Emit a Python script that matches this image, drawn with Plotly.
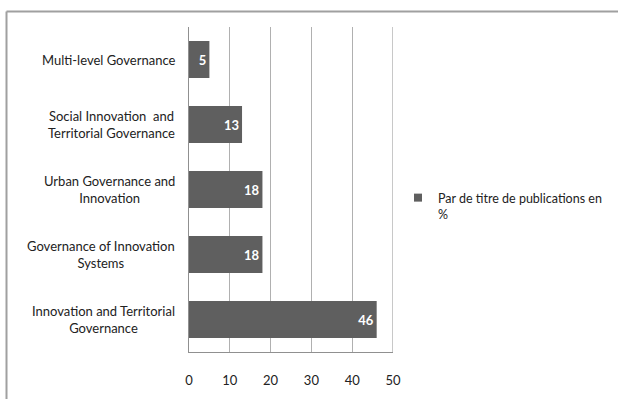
import plotly.graph_objects as go

categories = [
    "Innovation and Territorial<br>Governance",
    "Governance of Innovation<br>Systems",
    "Urban Governance and<br>Innovation",
    "Social Innovation  and<br>Territorial Governance",
    "Multi-level Governance",
]
values = [46, 18, 18, 13, 5]
series_name = "Par de titre de publications en<br>%"
x_ticks = [0, 10, 20, 30, 40, 50]

W, H = 618, 399
L, R, T, B = 189, 225, 27, 47
pw, ph = W - L - R, H - T - B

def px_x(p):
    return (p - L) / pw

def px_y(p):
    return (H - B - p) / ph

FONT = "Lato, 'Open Sans', sans-serif"
BAR_COLOR = "#5f5f5f"

fig = go.Figure()
fig.add_trace(go.Bar(
    y=categories, x=values, orientation="h",
    name=series_name,
    marker=dict(color=BAR_COLOR, line=dict(width=0)),
    text=[str(v) for v in values],
    textposition="inside", insidetextanchor="end",
    textfont=dict(color="white", size=13, family=FONT, weight="bold"),
    showlegend=False,
))
# legend-only entry with a small square symbol
fig.add_trace(go.Scatter(
    x=[None], y=[None], mode="markers", name=series_name,
    marker=dict(symbol="square", size=8, color=BAR_COLOR),
    showlegend=True,
))

for c in categories:
    fig.add_annotation(
        x=px_x(177), xref="paper", y=c, yref="y",
        text=c, showarrow=False, xanchor="right", align="center",
        font=dict(size=13, color="#222", family=FONT),
    )

fig.update_layout(
    width=W, height=H,
    margin=dict(l=L, r=R, t=T, b=B, pad=0, autoexpand=False),
    paper_bgcolor="white", plot_bgcolor="white",
    bargap=0.43,
    font=dict(family=FONT, size=13, color="#222"),
    xaxis=dict(
        range=[0, 50], tickvals=x_ticks, showgrid=True, gridcolor="#b0b0b0",
        gridwidth=1, showline=True, linecolor="#909090", linewidth=1,
        zeroline=False, ticks="", ticklabelstandoff=16,
        tickfont=dict(size=13, color="#222", family=FONT), mirror=False,
    ),
    yaxis=dict(
        showticklabels=False, showline=True, linecolor="#909090", linewidth=1,
        showgrid=False, ticks="", range=[-0.5, 4.5],
    ),
    legend=dict(
        x=px_x(398), y=px_y(183), xanchor="left", yanchor="top",
        font=dict(size=12.5, color="#222", family=FONT),
        bgcolor="rgba(0,0,0,0)", itemwidth=30, valign="top",
    ),
    shapes=[
        dict(type="line", xref="paper", yref="paper",
             x0=px_x(6.5), x1=px_x(640), y0=px_y(11.5), y1=px_y(11.5),
             line=dict(color="#a0a0a0", width=2)),
        dict(type="line", xref="paper", yref="paper",
             x0=px_x(6.5), x1=px_x(6.5), y0=px_y(11.5), y1=px_y(420),
             line=dict(color="#a0a0a0", width=2)),
        dict(type="line", xref="x", yref="paper",
             x0=50, x1=50, y0=0, y1=1,
             line=dict(color="#909090", width=1)),
    ],
)

fig.write_html("out.html")
